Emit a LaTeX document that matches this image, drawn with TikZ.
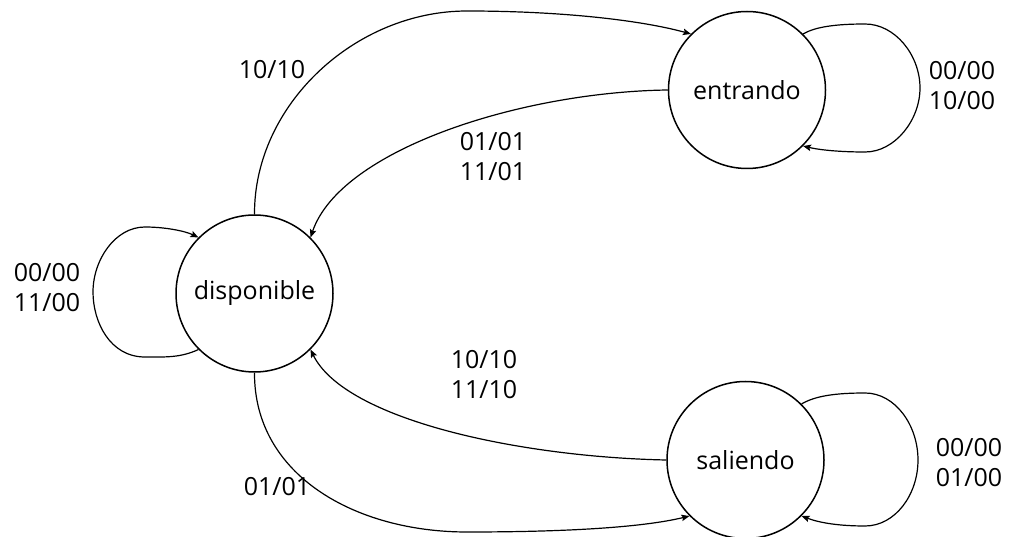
\documentclass[tikz,border=0pt]{standalone}
\usepackage{fontspec}
\setmainfont{Open Sans}
\usetikzlibrary{arrows.meta}
\begin{document}
\begin{tikzpicture}[x=1pt,y=-1pt,
  state/.style={circle,draw,line width=1.5pt,minimum size=157pt,inner sep=0pt,font=\fontsize{25}{30}\selectfont},
  lbl/.style={inner sep=0pt,align=center,font=\fontsize{25}{30}\selectfont},
  tr/.style={line width=1.2pt,-{Stealth[length=8pt,width=6.5pt,inset=1.5pt]}}]
\useasboundingbox (0,0) rectangle (1021,537);
\node[state] (d) at (254.5,293.5) {disponible};
\node[state] (e) at (747,90) {entrando};
\node[state] (s) at (745.5,460) {saliendo};
% disponible -> entrando
\draw[tr] (d.90) .. controls (254,105) and (355,11) .. (467,11)
  .. controls (560,11) and (640,20) .. (e.135);
% entrando -> disponible
\draw[tr] (e.180) .. controls (520,92) and (340,150) .. (d.45);
% saliendo -> disponible
\draw[tr] (s.180) .. controls (520,457) and (345,420) .. (d.-45);
% disponible -> saliendo
\draw[tr] (d.-90) .. controls (254,475) and (355,532) .. (467,532)
  .. controls (560,532) and (640,528) .. (s.-135);
% self loops
\draw[tr] (d.-135) .. controls (180,358) and (165,357) .. (145,357)
  .. controls (110,357) and (93,322) .. (93,292)
  .. controls (93,260) and (115,227) .. (145,227)
  .. controls (165,227) and (185,231) .. (d.135);
\draw[tr] (e.45) .. controls (815,27) and (835,24) .. (865,24)
  .. controls (895,24) and (920,55) .. (920,88)
  .. controls (920,120) and (895,152) .. (865,152)
  .. controls (840,152) and (820,150) .. (e.-45);
\draw[tr] (s.45) .. controls (815,396) and (835,393) .. (865,393)
  .. controls (895,393) and (918,425) .. (918,460)
  .. controls (918,495) and (895,526) .. (865,526)
  .. controls (840,526) and (820,523) .. (s.-45);
% labels
\node[lbl] (l1) at (272,70) {10/10};
\node[lbl] (l2) at (493,157) {01/01\\11/01};
\node[lbl] (l3) at (484,375) {10/10\\11/10};
\node[lbl] (l4) at (277,487) {01/01};
\node[lbl] (l5) at (47,288) {00/00\\11/00};
\node[lbl] (l6) at (962,86) {00/00\\10/00};
\node[lbl] (l7) at (969,463) {00/00\\01/00};
\end{tikzpicture}
\end{document}
